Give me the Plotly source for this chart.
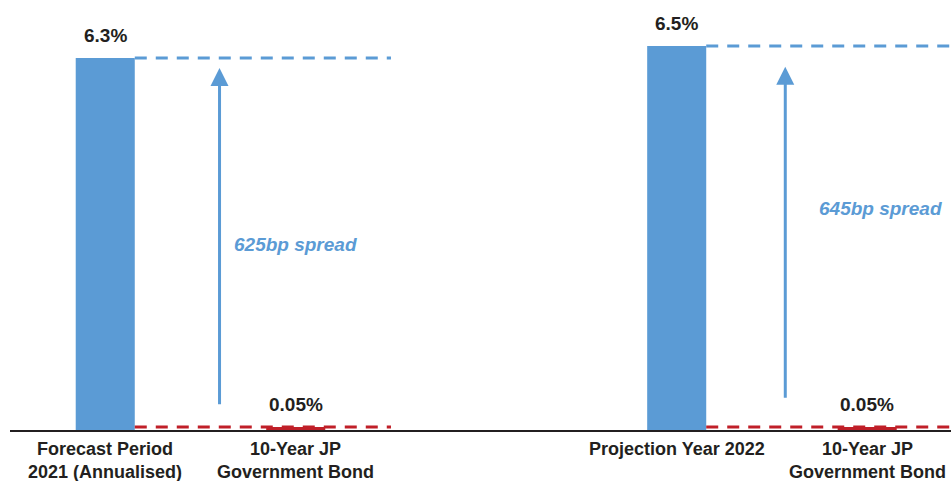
import plotly.graph_objects as go

# Category positions and labels
positions = [0, 1, 3, 4]
categories = [
    "Forecast Period<br>2021 (Annualised)",
    "10-Year JP<br>Government Bond",
    "Projection Year 2022",
    "10-Year JP<br>Government Bond",
]
values = [6.3, 0.05, 6.5, 0.05]            # percent
value_labels = ["6.3%", "0.05%", "6.5%", "0.05%"]
spread_labels = ["625bp spread", "645bp spread"]

BLUE = "#5B9BD5"
RED = "#C01F28"
TEXT = "#231F20"
FONT = "Liberation Sans, Arial, sans-serif"
BAR_W = 0.31

colors = [BLUE, RED, BLUE, RED]

fig = go.Figure()
fig.add_trace(go.Bar(
    x=positions, y=values, width=BAR_W,
    marker=dict(color=colors, line=dict(width=0)),
    hoverinfo="skip",
))

# value labels above each bar
for p, v, lab in zip(positions, values, value_labels):
    fig.add_annotation(x=p, y=v, text=f"<b>{lab}</b>", showarrow=False,
                       yanchor="bottom", yshift=10,
                       font=dict(family=FONT, size=19, color=TEXT))

# category labels under the axis
for p, lab in zip(positions, categories):
    fig.add_annotation(x=p, xref="x", y=0, yref="paper",
                       text=f"<b>{lab}</b>", showarrow=False,
                       yanchor="top", yshift=-7,
                       font=dict(family=FONT, size=18, color=TEXT))

# dashed reference lines and spread arrows for each pair
groups = [(0, 1, 1.5), (2, 3, 4.6)]
arrow_x = [0.6, 3.57]
arrow_gap = [0.17, 0.35]
arrow_base = [0.41, 0.52]
spread_pos = [(1.0, 3.14), (4.07, 3.75)]
for gi, (bi, ri, xend) in enumerate(groups):
    x_edge = positions[bi] + BAR_W / 2
    fig.add_shape(type="line", xref="x", yref="y",
                  x0=x_edge, x1=xend, y0=values[bi], y1=values[bi],
                  line=dict(color=BLUE, width=3, dash="12px,9px"))
    fig.add_shape(type="line", xref="x", yref="y",
                  x0=x_edge, x1=xend, y0=values[ri], y1=values[ri],
                  line=dict(color=RED, width=3, dash="12px,9px"))
    fig.add_annotation(x=arrow_x[gi], y=values[bi] - arrow_gap[gi],
                       ax=arrow_x[gi], ay=arrow_base[gi],
                       axref="x", ayref="y", xref="x", yref="y",
                       text="", showarrow=True, arrowhead=2,
                       arrowsize=1.2, arrowwidth=3, arrowcolor=BLUE)
    sx, sy = spread_pos[gi]
    fig.add_annotation(x=sx, y=sy, text=f"<b><i>{spread_labels[gi]}</i></b>",
                       showarrow=False,
                       font=dict(family=FONT, size=19, color=BLUE))

fig.update_layout(
    width=951, height=481,
    margin=dict(l=10, r=0, t=0, b=51),
    paper_bgcolor="white", plot_bgcolor="white",
    showlegend=False,
    xaxis=dict(range=[-0.5, 4.44], showticklabels=False,
               showgrid=False, zeroline=False, showline=True, linecolor="#231F20",
               linewidth=1.5, ticks="", automargin=False),
    yaxis=dict(range=[0, 7.28], visible=False, automargin=False),
)

fig.write_html("out.html")
